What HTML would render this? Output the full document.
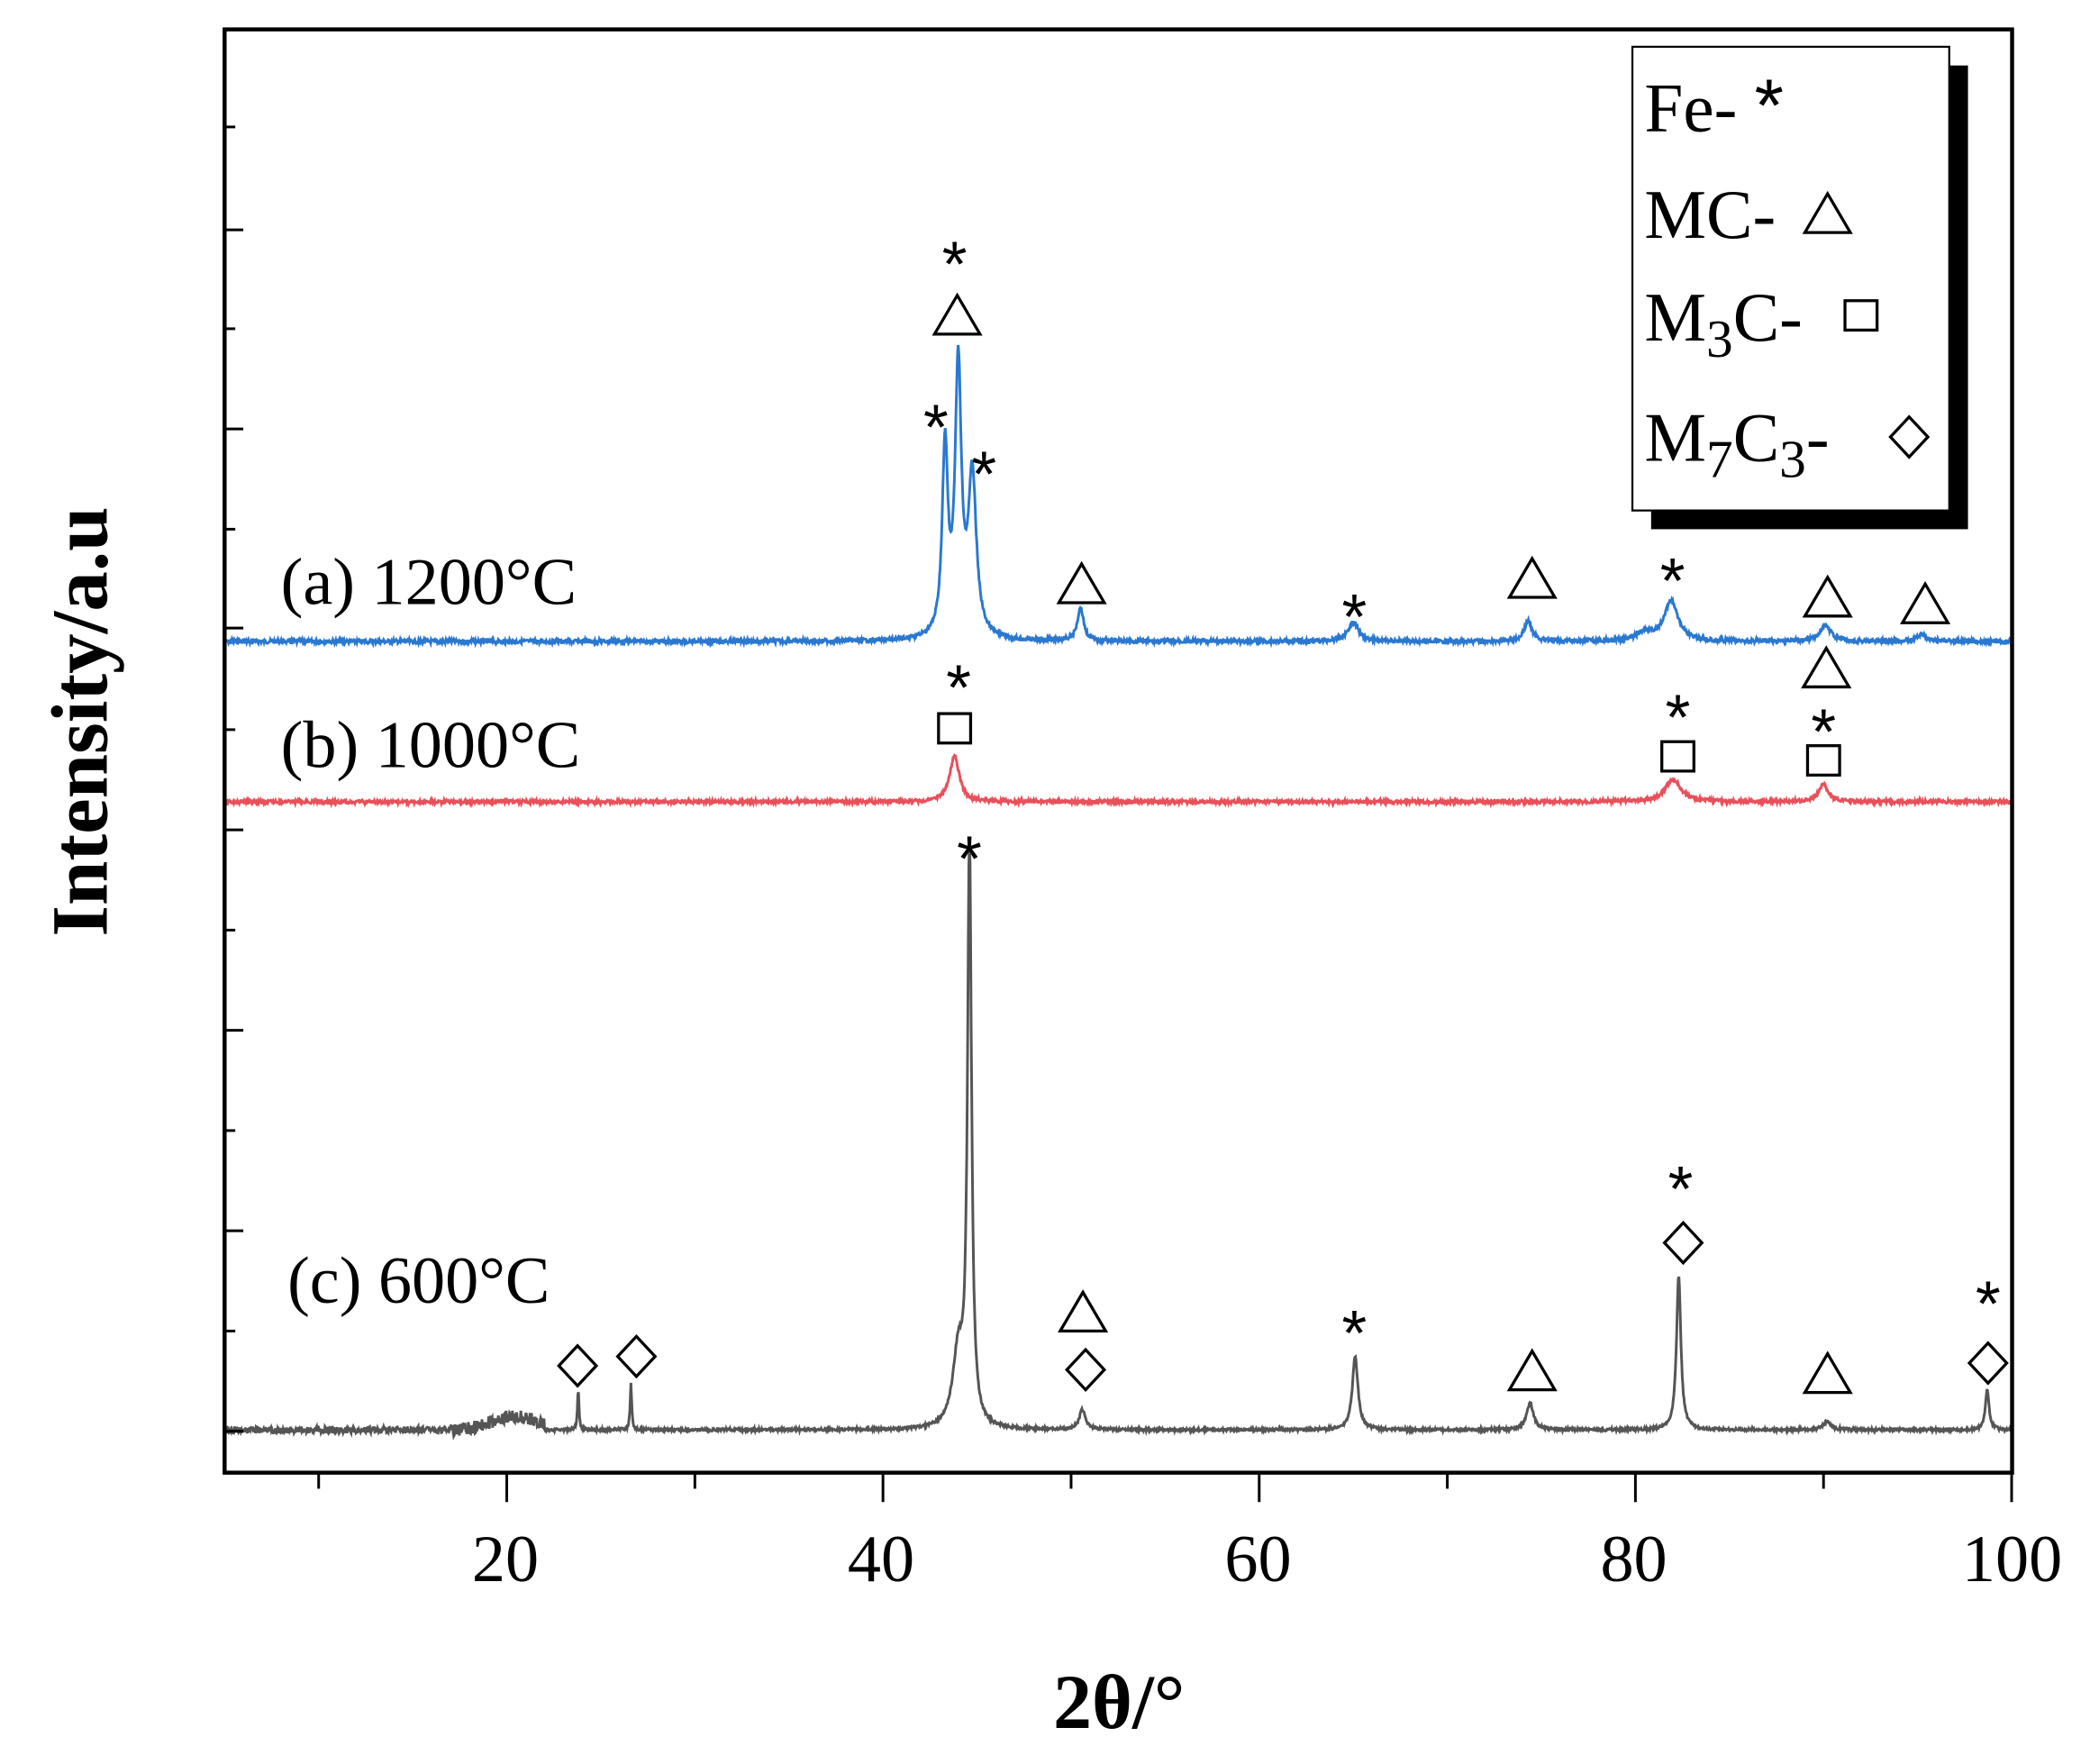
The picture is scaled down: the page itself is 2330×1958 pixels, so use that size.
<!DOCTYPE html>
<html><head><meta charset="utf-8"><style>
html,body{margin:0;padding:0;background:#fff;}
svg{display:block;}
</style></head><body>
<svg id="s" width="2330" height="1958" viewBox="0 0 1570 1320" preserveAspectRatio="none" xmlns="http://www.w3.org/2000/svg">
<rect width="1570" height="1320" fill="#fff"/>
<g id="curves"></g>
<rect x="168" y="22" width="1337" height="1080" fill="none" stroke="#000" stroke-width="3"/>
<g stroke="#000" stroke-width="2" id="ticks"></g>
<g font-family="Liberation Serif, serif" font-size="50" text-anchor="middle" fill="#000">
<text x="378" y="1183">20</text><text x="659" y="1183">40</text><text x="941" y="1183">60</text><text x="1222" y="1183">80</text><text x="1505" y="1183">100</text>
</g>
<text x="837" y="1293" font-family="Liberation Serif, serif" font-size="58" font-weight="bold" text-anchor="middle">2θ/°</text>
<text transform="translate(80,540) rotate(-90)" font-family="Liberation Serif, serif" font-size="60" font-weight="bold" text-anchor="middle">Intensity/a.u</text>
<rect x="1235" y="49" width="237" height="347" fill="#000"/>
<rect x="1221" y="35" width="237" height="347" fill="#fff" stroke="#000" stroke-width="1.5"/>
<g font-family="Liberation Serif, serif" font-size="52" fill="#000">
<text x="1230" y="98">Fe- <tspan font-family="Liberation Sans, sans-serif" font-size="56">*</tspan></text>
<text x="1230" y="178">MC-</text>
<text x="1230" y="255">M<tspan font-size="40" dy="12">3</tspan><tspan dy="-12">C-</tspan></text>
<text x="1230" y="345">M<tspan font-size="40" dy="12">7</tspan><tspan dy="-12">C</tspan><tspan font-size="40" dy="12">3</tspan><tspan dy="-12">-</tspan></text>
</g>
<g font-family="Liberation Serif, serif" font-size="50" fill="#000">
<text x="210" y="452">(a) 1200°C</text>
<text x="210" y="574">(b) 1000°C</text>
<text x="215" y="975">(c) 600°C</text>
</g>
<g id="marks" fill="none" stroke="#000" stroke-width="2.2"></g>
<g id="stars" font-family="Liberation Sans, sans-serif" font-size="48" text-anchor="middle" fill="#000"></g>
</svg>
<script>
var NS="http://www.w3.org/2000/svg";
function X(v){return 168+(v-5)*14.07;}
function el(p,t,a){var e=document.createElementNS(NS,t);for(var k in a)e.setAttribute(k,a[k]);p.appendChild(e);return e;}
var seed=7;function rnd(){seed=(seed*9301+49297)%233280;return seed/233280;}
function curve(base,peaks,color,noise,extra){
 var d="";
 for(var v=5;v<=100;v+=0.03){
  var y=base;
  for(var i=0;i<peaks.length;i++){var p=peaks[i];var t=(v-p[0])/p[2];y-=p[1]/(1+t*t);}
  if(extra)y-=extra(v);
  y+=(rnd()-0.5)*noise(v);
  d+=(d?"L":"M")+X(v).toFixed(1)+","+y.toFixed(1);
 }
 el(document.getElementById("curves"),"path",{d:d,fill:"none",stroke:color,"stroke-width":"2"});
}
curve(480,[[43.3,140,0.18],[44.0,200,0.2],[44.75,120,0.25],[50.5,25,0.2],[65,14,0.35],[74.3,15,0.25],[81.9,30,0.45],[80.5,6,0.5],[90.1,12,0.35],[95.2,5,0.3]],"#2a78d0",function(v){return 3;});
curve(600,[[43.8,35,0.3],[82,17,0.5],[90,13,0.3]],"#e8505a",function(v){return 2.5;});
curve(1070,[[44.6,430,0.13],[44.0,55,0.35],[23.8,30,0.05],[26.6,35,0.05],[50.6,15,0.2],[65.1,55,0.18],[74.4,20,0.22],[82.3,115,0.14],[90.2,6,0.25],[98.7,30,0.12]],"#555",function(v){return v<22?(v>17?10:5):2;},function(v){return (v>15&&v<22)?10*Math.exp(-Math.pow((v-20.5)/1.8,2)):0;});
var tk=document.getElementById("ticks");
var ys=[95,172,246,321,396,470,546,621,696,771,846,921,996,1071];
ys.forEach(function(y,i){var L=(i%2==1)?14:8;el(tk,"line",{x1:168,y1:y,x2:168+L,y2:y});});
for(var v=10;v<=100;v+=10){var maj=(v%20==0);el(tk,"line",{x1:X(v),y1:1102,x2:X(v),y2:1102+(maj?22:12)});}
var mk=document.getElementById("marks");
function tri(x,y){el(mk,"polygon",{points:(x-17)+","+(y+14)+" "+(x+17)+","+(y+14)+" "+x+","+(y-15)});}
function sq(x,y){el(mk,"rect",{x:x-12,y:y-11,width:24,height:22});}
function dia(x,y){el(mk,"polygon",{points:x+","+(y-15)+" "+(x+14)+","+y+" "+x+","+(y+15)+" "+(x-14)+","+y});}
var st=document.getElementById("stars");
function star(x,y){var t=el(st,"text",{x:x,y:y+26});t.textContent="*";}
tri(1367,160);sq(1392,236);dia(1428,327);
star(714,188);tri(716,236);star(700,310);star(736,345);
tri(809,437);star(1013,452);tri(1146,433);star(1251,425);tri(1367,447);tri(1440,452);
star(717,505);sq(714,545);star(1255,527);sq(1255,566);tri(1366,500);star(1364,538);sq(1364,569);
star(725,633);star(1257,880);dia(1259,930);star(1487,966);dia(1487,1020);
tri(810,982);dia(812,1025);star(1013,988);tri(1146,1026);tri(1367,1028);dia(432,1022);dia(476,1015);
</script>
</body></html>
